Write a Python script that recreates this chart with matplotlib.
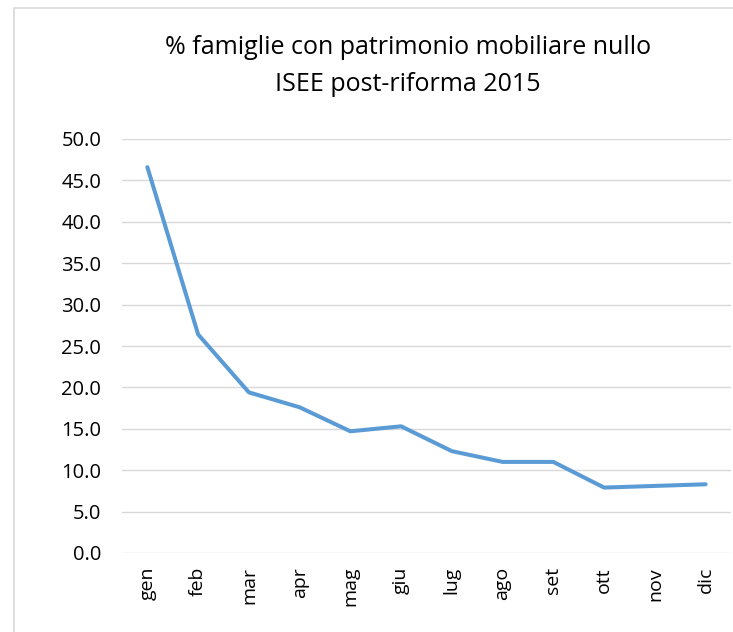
import matplotlib.pyplot as plt
from matplotlib.patches import Rectangle

months = ['gen', 'feb', 'mar', 'apr', 'mag', 'giu', 'lug', 'ago', 'set', 'ott', 'nov', 'dic']
pct_zero = [46.6, 26.4, 19.4, 17.6, 14.7, 15.3, 12.3, 11.0, 11.0, 7.9, 8.1, 8.3]
yticks = [0, 5, 10, 15, 20, 25, 30, 35, 40, 45, 50]

plt.rcParams['font.family'] = ['Open Sans', 'DejaVu Sans']

fig = plt.figure(figsize=(7.33, 6.32), dpi=100)
# chart frame (Excel style), runs off right/bottom edges
fig.patches.append(Rectangle((14 / 733, -0.1), 1.0, 1.1 - 8 / 632, transform=fig.transFigure,
                             fill=False, edgecolor='#D9D9D9', linewidth=1.2))

ax = fig.add_axes([122 / 733, 79 / 632, 609 / 733, 414 / 632])
x = list(range(len(months)))
ax.plot(x, pct_zero, color='#5B9BD5', linewidth=2.9, solid_capstyle='round', zorder=3)

ax.set_xlim(-0.5, len(months) - 0.5)
ax.set_ylim(0, 50)
ax.set_yticks(yticks)
ax.set_yticklabels([f'{v:.1f}' for v in yticks], fontsize=14.5)
ax.set_xticks(x)
ax.set_xticklabels(months, rotation=90, fontsize=14)
ax.tick_params(axis='y', length=0, pad=15)
ax.tick_params(axis='x', length=0, pad=10)
ax.grid(axis='y', color='#D9D9D9', linewidth=1)
ax.set_axisbelow(True)
for s in ax.spines.values():
    s.set_visible(False)

fig.text(408 / 733, 1 - 66 / 632, '% famiglie con patrimonio mobiliare nullo\nISEE post-riforma 2015',
         ha='center', va='center', fontsize=18, linespacing=1.65)

fig.savefig('out.png', dpi=100)
